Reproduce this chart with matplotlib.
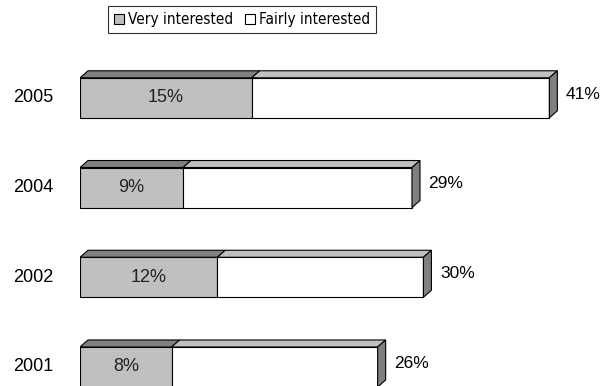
import matplotlib
matplotlib.use("Agg")
import matplotlib.pyplot as plt
from matplotlib.patches import Polygon, Patch

plt.rcParams['font.family'] = ['Liberation Sans', 'DejaVu Sans']

# bottom to top
years = ['2001', '2002', '2004', '2005']
very = [8, 12, 9, 15]
total = [26, 30, 29, 41]
fairly = [t - v for t, v in zip(total, very)]

light = '#c0c0c0'
dark = '#808080'

fig = plt.figure(figsize=(6.02, 3.86), dpi=100)
ax = fig.add_axes([80 / 602, 0, 522 / 602, 1])
ax.set_xlim(0, 45.6)
ax.set_ylim(-0.212, 4.09)
ax.axis('off')

ypos = list(range(len(years)))
h = 0.446      # bar thickness
dx, dy = 0.70, 0.078   # depth of the 3d effect

ax.barh(ypos, very, height=h, color=light, edgecolor='black', linewidth=0.8)
ax.barh(ypos, fairly, left=very, height=h, color='white', edgecolor='black', linewidth=0.8)

for y, v, t, yr in zip(ypos, very, total, years):
    top = y + h / 2
    bot = y - h / 2
    # top faces
    ax.add_patch(Polygon([(0, top), (v, top), (v + dx, top + dy), (dx, top + dy)],
                         closed=True, facecolor=dark, edgecolor='black', linewidth=0.8))
    ax.add_patch(Polygon([(v, top), (t, top), (t + dx, top + dy), (v + dx, top + dy)],
                         closed=True, facecolor=light, edgecolor='black', linewidth=0.8))
    # right side
    ax.add_patch(Polygon([(t, bot), (t, top), (t + dx, top + dy), (t + dx, bot + dy)],
                         closed=True, facecolor=dark, edgecolor='black', linewidth=0.8))

    ax.text(v / 2, y, f'{v}%', ha='center', va='center', fontsize=13, color='#222222')
    ax.text(t + dx + 0.75, y + 0.04, f'{t}%', ha='left', va='center', fontsize=12.5)
    ax.text(-4.1, y, yr, ha='center', va='center', fontsize=13, clip_on=False)

handles = [Patch(facecolor=light, edgecolor='black', linewidth=0.8),
           Patch(facecolor='white', edgecolor='black', linewidth=0.8)]
leg = fig.legend(handles, ['Very interested', 'Fairly interested'],
                 loc='upper center', bbox_to_anchor=(0.402, 0.984), ncol=2,
                 frameon=True, fancybox=False, borderpad=0.4, borderaxespad=0,
                 handlelength=0.65, handleheight=0.65, handletextpad=0.25,
                 columnspacing=0.8,
                 prop={'family': 'DejaVu Sans', 'stretch': 'condensed', 'size': 11})
leg.get_frame().set_edgecolor('black')
leg.get_frame().set_linewidth(0.8)

fig.savefig('out.png', dpi=100)
